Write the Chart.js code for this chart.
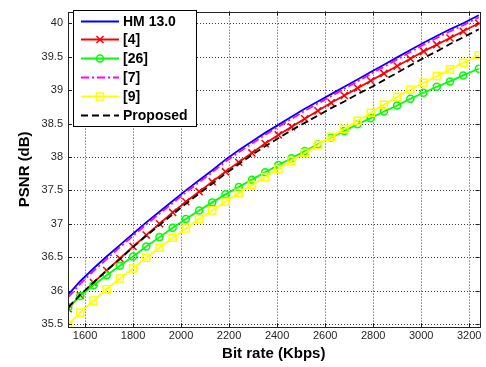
<!DOCTYPE html>
<html>
<head>
<meta charset="utf-8">
<script src="https://cdn.jsdelivr.net/npm/chart.js@4.4.0/dist/chart.umd.min.js"></script>
<style>
html,body{margin:0;padding:0;background:#fff;}
canvas{display:block;}
</style>
</head>
<body>
<canvas id="c" width="486" height="367"></canvas>
<script>
// ---- data ----
const bitrate = [1530,1580,1635,1690,1745,1800,1855,1910,1965,2020,2075,2130,2185,2240,2295,2350,2405,2460,2515,2570,2625,2680,2735,2790,2845,2900,2955,3010,3065,3120,3175,3240];
const hm13 = [35.94,36.14,36.33,36.51,36.68,36.85,37.02,37.18,37.34,37.50,37.65,37.80,37.96,38.10,38.23,38.36,38.48,38.60,38.72,38.83,38.94,39.05,39.16,39.27,39.38,39.49,39.60,39.71,39.81,39.91,40.00,40.12];
const ref4 = [35.73,35.93,36.12,36.30,36.48,36.66,36.83,37.00,37.17,37.33,37.48,37.63,37.78,37.92,38.06,38.20,38.33,38.45,38.57,38.69,38.81,38.92,39.03,39.14,39.25,39.36,39.47,39.58,39.68,39.78,39.88,40.00];
const ref26 = [35.75,35.92,36.08,36.23,36.37,36.51,36.66,36.80,36.94,37.07,37.20,37.32,37.44,37.55,37.66,37.77,37.88,37.98,38.09,38.19,38.29,38.39,38.49,38.58,38.68,38.77,38.87,38.96,39.05,39.13,39.22,39.32];
const ref7 = [35.90,36.10,36.29,36.47,36.65,36.82,36.99,37.15,37.31,37.47,37.62,37.77,37.93,38.07,38.20,38.33,38.45,38.57,38.69,38.80,38.91,39.02,39.13,39.24,39.35,39.46,39.57,39.68,39.78,39.88,39.97,40.09];
const ref9 = [35.49,35.67,35.85,36.02,36.18,36.33,36.49,36.64,36.79,36.93,37.07,37.20,37.33,37.46,37.58,37.70,37.82,37.94,38.06,38.18,38.30,38.42,38.54,38.66,38.78,38.90,39.01,39.11,39.21,39.31,39.41,39.52];
const proposed = [35.75,35.94,36.12,36.30,36.47,36.65,36.82,36.98,37.14,37.30,37.45,37.60,37.75,37.89,38.03,38.16,38.28,38.40,38.51,38.62,38.73,38.83,38.94,39.04,39.15,39.26,39.37,39.48,39.58,39.69,39.79,39.91];
const xTicks = [1600,1800,2000,2200,2400,2600,2800,3000,3200];
const yTicks = [35.5,36,36.5,37,37.5,38,38.5,39,39.5,40];
const seriesNames = ["HM 13.0","[4]","[26]","[7]","[9]","Proposed"];

const pts = arr => bitrate.map((x, i) => ({x: x, y: arr[i]}));
const clear = 'rgba(0,0,0,0)';

const datasets = [
  {label: seriesNames[0], data: pts(hm13), borderColor: '#0000ff', borderWidth: 1.8, pointRadius: 0, order: 5},
  {label: seriesNames[1], data: pts(ref4), borderColor: '#ff0000', borderWidth: 1.8, pointStyle: 'crossRot', pointRadius: 5, pointBorderWidth: 1.5, pointBorderColor: '#ff0000', pointBackgroundColor: clear, order: 4},
  {label: seriesNames[2], data: pts(ref26), borderColor: '#00ff00', borderWidth: 1.8, pointStyle: 'circle', pointRadius: 3.5, pointBorderWidth: 1.5, pointBorderColor: '#00ff00', pointBackgroundColor: clear, order: 3},
  {label: seriesNames[3], data: pts(ref7), borderColor: '#ff00ff', borderWidth: 1.8, borderDash: [8,3,2,3], pointRadius: 0, order: 2},
  {label: seriesNames[4], data: pts(ref9), borderColor: '#ffff00', borderWidth: 1.8, pointStyle: 'rect', pointRadius: 5, pointBorderWidth: 1.5, pointBorderColor: '#ffff00', pointBackgroundColor: clear, order: 1},
  {label: seriesNames[5], data: pts(proposed), borderColor: '#000000', borderWidth: 1.8, borderDash: [7,4], pointRadius: 0, order: 0}
];

const legendStyles = [
  {color:'#0000ff', dash:[], marker:null},
  {color:'#ff0000', dash:[], marker:'x'},
  {color:'#00ff00', dash:[], marker:'o'},
  {color:'#ff00ff', dash:[8,3,2,3], marker:null},
  {color:'#ffff00', dash:[], marker:'s'},
  {color:'#000000', dash:[7,4], marker:null}
];

const gridPlugin = {
  id: 'matlabGrid',
  beforeDatasetsDraw(chart) {
    const {ctx, chartArea: a, scales: {x, y}} = chart;
    ctx.save();
    ctx.strokeStyle = 'rgba(0,0,0,0.75)';
    ctx.lineWidth = 1;
    ctx.setLineDash([1,2]);
    xTicks.forEach(v => {
      const px = Math.round(x.getPixelForValue(v)) + 0.5;
      ctx.beginPath(); ctx.moveTo(px, a.top); ctx.lineTo(px, a.bottom); ctx.stroke();
    });
    yTicks.forEach(v => {
      const py = Math.round(y.getPixelForValue(v)) + 0.5;
      ctx.beginPath(); ctx.moveTo(a.left, py); ctx.lineTo(a.right, py); ctx.stroke();
    });
    ctx.restore();
  },
  afterDraw(chart) {
    const {ctx, chartArea: a, scales: {x, y}} = chart;
    ctx.save();
    // frame
    ctx.setLineDash([]);
    ctx.strokeStyle = '#222';
    ctx.lineWidth = 1;
    ctx.strokeRect(Math.round(a.left)+0.5, Math.round(a.top)+0.5, Math.round(a.right - a.left), Math.round(a.bottom - a.top));
    // inward ticks
    const tl = 4;
    xTicks.forEach(v => {
      const px = Math.round(x.getPixelForValue(v)) + 0.5;
      ctx.beginPath();
      ctx.moveTo(px, a.bottom); ctx.lineTo(px, a.bottom - tl);
      ctx.moveTo(px, a.top); ctx.lineTo(px, a.top + tl);
      ctx.stroke();
    });
    yTicks.forEach(v => {
      const py = Math.round(y.getPixelForValue(v)) + 0.5;
      ctx.beginPath();
      ctx.moveTo(a.left, py); ctx.lineTo(a.left + tl, py);
      ctx.moveTo(a.right, py); ctx.lineTo(a.right - tl, py);
      ctx.stroke();
    });
    // legend
    const lx = 73.5, ly = 10.5, lw = 123, lh = 116;
    ctx.fillStyle = '#fff';
    ctx.fillRect(lx, ly, lw, lh);
    ctx.strokeStyle = '#000';
    ctx.strokeRect(lx, ly, lw, lh);
    ctx.font = 'bold 14px "Liberation Sans", Arial, sans-serif';
    ctx.textBaseline = 'middle';
    ctx.textAlign = 'left';
    seriesNames.forEach((name, i) => {
      const st = legendStyles[i];
      const cy = Math.round(20.5 + i * 18.8) + 0.5;
      ctx.strokeStyle = st.color;
      ctx.lineWidth = 1.8;
      ctx.setLineDash(st.dash);
      ctx.beginPath(); ctx.moveTo(81, cy); ctx.lineTo(119, cy); ctx.stroke();
      ctx.setLineDash([]);
      ctx.lineWidth = 1.5;
      const mx = 100;
      if (st.marker === 'x') {
        ctx.beginPath();
        ctx.moveTo(mx-3.5, cy-3.5); ctx.lineTo(mx+3.5, cy+3.5);
        ctx.moveTo(mx+3.5, cy-3.5); ctx.lineTo(mx-3.5, cy+3.5);
        ctx.stroke();
      } else if (st.marker === 'o') {
        ctx.beginPath(); ctx.arc(mx, cy, 3.5, 0, Math.PI*2); ctx.stroke();
      } else if (st.marker === 's') {
        ctx.strokeRect(mx-3.5, cy-3.5, 7, 7);
      }
      ctx.fillStyle = '#000';
      ctx.fillText(name, 123, cy + 0.5);
    });
    ctx.restore();
  }
};

new Chart(document.getElementById('c'), {
  type: 'line',
  data: {datasets: datasets},
  plugins: [gridPlugin],
  options: {
    responsive: false,
    animation: false,
    devicePixelRatio: 1,
    layout: {padding: {top: 3, right: 5, left: 0, bottom: 0}},
    elements: {line: {tension: 0}},
    plugins: {legend: {display: false}, tooltip: {enabled: false}},
    scales: {
      x: {
        type: 'linear',
        min: 1529, max: 3243,
        afterBuildTicks: s => { s.ticks = xTicks.map(v => ({value: v})); },
        afterFit: s => { s.height = 40; },
        grid: {display: false, drawTicks: false},
        border: {display: false},
        ticks: {padding: 2, color: '#262626', font: {family: '"Liberation Sans", Arial, sans-serif', size: 11}, maxRotation: 0, autoSkip: false, callback: v => String(v)},
        title: {display: true, text: 'Bit rate (Kbps)', color: '#000', font: {family: '"Liberation Sans", Arial, sans-serif', size: 15, weight: 'bold'}, padding: {top: 0, bottom: 4}}
      },
      y: {
        type: 'linear',
        min: 35.455, max: 40.175,
        afterBuildTicks: s => { s.ticks = yTicks.map(v => ({value: v})); },
        afterFit: s => { s.width = 68; },
        grid: {display: false, drawTicks: false},
        border: {display: false},
        ticks: {padding: 5, color: '#262626', font: {family: '"Liberation Sans", Arial, sans-serif', size: 11}, autoSkip: false, callback: v => String(v)},
        title: {display: true, text: 'PSNR (dB)', color: '#000', font: {family: '"Liberation Sans", Arial, sans-serif', size: 15, weight: 'bold'}, padding: {top: 16, bottom: 0}}
      }
    }
  }
});
</script>
</body>
</html>
